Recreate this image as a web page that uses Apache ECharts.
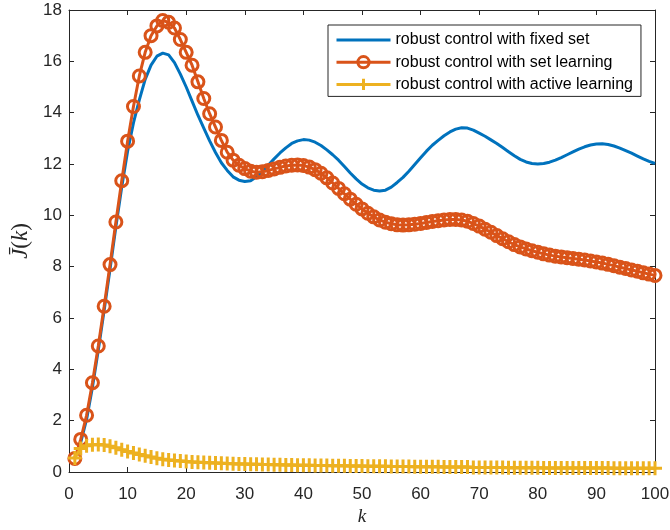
<!DOCTYPE html>
<html>
<head>
<meta charset="utf-8">
<script src="https://cdn.jsdelivr.net/npm/echarts@6/dist/echarts.min.js"></script>
<style>
  html, body { margin: 0; padding: 0; background: #fff; }
  #chart { width: 670px; height: 530px; }
</style>
</head>
<body>
<div id="chart"></div>
<script>
// Time steps k = 1..100
const steps = [];
for (let k = 1; k <= 100; k++) steps.push(k);

const seriesNames = [
  'robust control with fixed set',
  'robust control with set learning',
  'robust control with active learning'
];

// Average cost J(k) per strategy
const fixedSet = [
  0.55, 1.15, 2.05, 3.3, 4.75, 6.3, 7.9, 9.55, 11.1, 12.5,
  13.6, 14.5, 15.3, 15.85, 16.2, 16.32, 16.25, 15.95, 15.5, 15.0,
  14.45, 13.9, 13.4, 12.9, 12.45, 12.05, 11.75, 11.5, 11.37, 11.32,
  11.35, 11.5, 11.7, 11.95, 12.2, 12.43, 12.63, 12.8, 12.9, 12.95,
  12.93, 12.85, 12.72, 12.55, 12.36, 12.15, 11.9, 11.65, 11.42, 11.22,
  11.07, 10.98, 10.95, 10.98, 11.1, 11.28, 11.48, 11.72, 11.98, 12.24,
  12.5, 12.73, 12.92, 13.1, 13.25, 13.36, 13.41, 13.4, 13.32, 13.2,
  13.08, 12.94, 12.8, 12.64, 12.48, 12.32, 12.18, 12.08, 12.02, 12.0,
  12.02, 12.07, 12.15, 12.25, 12.36, 12.47, 12.58, 12.67, 12.74, 12.78,
  12.79, 12.76, 12.7, 12.62, 12.52, 12.42, 12.31, 12.2, 12.1, 12.02
];

const setLearning = [
  0.53, 1.27, 2.21, 3.48, 4.91, 6.46, 8.08, 9.74, 11.35, 12.89,
  14.24, 15.43, 16.35, 17.0, 17.38, 17.59, 17.52, 17.3, 16.85, 16.35,
  15.85, 15.2, 14.55, 13.96, 13.44, 12.92, 12.46, 12.15, 11.95, 11.82,
  11.72, 11.68, 11.7, 11.75, 11.81, 11.87, 11.92, 11.95, 11.96, 11.94,
  11.88, 11.78, 11.64, 11.46, 11.26, 11.05, 10.84, 10.63, 10.43, 10.25,
  10.08, 9.94, 9.82, 9.73, 9.67, 9.63, 9.62, 9.63, 9.65, 9.68,
  9.72, 9.76, 9.79, 9.82, 9.84, 9.84, 9.82, 9.77, 9.68, 9.58,
  9.46, 9.34, 9.21, 9.09, 8.97, 8.86, 8.77, 8.69, 8.62, 8.56,
  8.5, 8.45, 8.41, 8.38, 8.35, 8.32, 8.29, 8.26, 8.22, 8.18,
  8.14, 8.09, 8.04, 7.98, 7.93, 7.87, 7.82, 7.76, 7.71, 7.66
];

const activeLearning = [
  0.55, 0.92, 1.02, 1.06, 1.07, 1.05, 1.0, 0.94, 0.87, 0.8,
  0.74, 0.68, 0.63, 0.58, 0.54, 0.5, 0.47, 0.45, 0.43, 0.41,
  0.39, 0.38, 0.37, 0.36, 0.35, 0.34, 0.33, 0.32, 0.31, 0.31,
  0.3, 0.3, 0.29, 0.29, 0.28, 0.28, 0.27, 0.27, 0.26, 0.26,
  0.26, 0.25, 0.25, 0.25, 0.24, 0.24, 0.24, 0.23, 0.23, 0.23,
  0.22, 0.22, 0.22, 0.22, 0.21, 0.21, 0.21, 0.21, 0.2, 0.2,
  0.2, 0.2, 0.2, 0.19, 0.19, 0.19, 0.19, 0.19, 0.18, 0.18,
  0.18, 0.18, 0.18, 0.18, 0.17, 0.17, 0.17, 0.17, 0.17, 0.17,
  0.16, 0.16, 0.16, 0.16, 0.16, 0.16, 0.16, 0.16, 0.16, 0.16,
  0.16, 0.16, 0.15, 0.15, 0.15, 0.15, 0.15, 0.15, 0.15, 0.15
];

const BLUE = '#0072BD', RED = '#D95319', YELLOW = '#EDB120';
const AX = '#262626';
const SANS = '"Liberation Sans", Arial, Helvetica, sans-serif';
const SERIF = '"Liberation Serif", "DejaVu Serif", serif';

const pairs = (ys) => steps.map((k, i) => [k, ys[i]]);

const tickInside = { show: true, inside: true, length: 5, lineStyle: { color: AX, width: 1 } };
const axisLine = { show: true, onZero: false, lineStyle: { color: AX, width: 1 } };

const chart = echarts.init(document.getElementById('chart'), null, { renderer: 'canvas' });
chart.setOption({
  animation: false,
  backgroundColor: '#fff',
  grid: { left: 69, right: 15, top: 10, bottom: 58, containLabel: false, outerBoundsMode: 'none' },
  xAxis: [
    {
      type: 'value', position: 'bottom', min: 0, max: 100, interval: 10,
      axisLine, axisTick: tickInside, splitLine: { show: false },
      axisLabel: { color: AX, fontSize: 17, fontFamily: SANS, margin: 14 },
      name: 'k', nameLocation: 'middle', nameGap: 32,
      nameTextStyle: { fontFamily: SERIF, fontStyle: 'italic', fontSize: 19, color: AX }
    },
    {
      type: 'value', position: 'top', min: 0, max: 100, interval: 10,
      axisLine, axisTick: tickInside, axisLabel: { show: false }, splitLine: { show: false }
    }
  ],
  yAxis: [
    {
      type: 'value', position: 'left', min: 0, max: 18, interval: 2,
      axisLine, axisTick: tickInside, splitLine: { show: false },
      axisLabel: { color: AX, fontSize: 17, fontFamily: SANS, margin: 7 },
      name: '{i|J̄}{u|(}{i|k}{u|)}', nameLocation: 'middle', nameGap: 36, nameRotate: 90,
      nameTextStyle: {
        color: AX,
        rich: {
          i: { fontFamily: SERIF, fontStyle: 'italic', fontSize: 23, color: AX },
          u: { fontFamily: SERIF, fontSize: 23, color: AX }
        }
      }
    },
    {
      type: 'value', position: 'right', min: 0, max: 18, interval: 2,
      axisLine, axisTick: tickInside, axisLabel: { show: false }, splitLine: { show: false }
    }
  ],
  legend: {
    orient: 'vertical', left: 328, top: 25,
    padding: [7, 8, 4, 7],
    itemWidth: 54, itemHeight: 14, itemGap: 6.2,
    backgroundColor: '#fff', borderColor: AX, borderWidth: 1, borderRadius: 0,
    textStyle: { fontFamily: SANS, fontSize: 16, color: '#000' },
    lineStyle: { width: 3 },
    itemStyle: { borderWidth: 3 },
    data: [
      { name: seriesNames[0], itemStyle: { opacity: 0 } },
      { name: seriesNames[1] },
      { name: seriesNames[2] }
    ]
  },
  series: [
    {
      name: seriesNames[0], type: 'line', data: pairs(fixedSet),
      symbol: 'none', lineStyle: { color: BLUE, width: 3 },
      itemStyle: { color: BLUE }, z: 2
    },
    {
      name: seriesNames[1], type: 'line', data: pairs(setLearning),
      symbol: 'circle', symbolSize: 12, showAllSymbol: true,
      lineStyle: { color: RED, width: 3 },
      itemStyle: { color: 'rgba(0,0,0,0)', borderColor: RED, borderWidth: 3 }, z: 3
    },
    {
      name: seriesNames[2], type: 'line', data: pairs(activeLearning),
      symbol: 'path://M5,0L5,10M0,5L10,5', symbolSize: 14, showAllSymbol: true,
      lineStyle: { color: YELLOW, width: 3 },
      itemStyle: { color: 'rgba(0,0,0,0)', borderColor: YELLOW, borderWidth: 3 }, z: 4
    }
  ]
});
</script>
</body>
</html>
